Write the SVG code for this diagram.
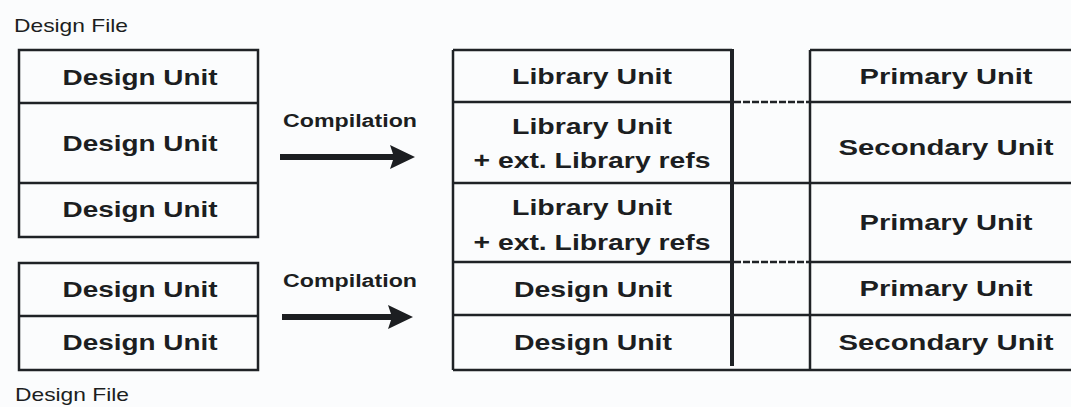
<svg xmlns="http://www.w3.org/2000/svg" width="1071" height="407" viewBox="0 0 1071 407">
  <style>
    .bg { fill: #fbfcfd; }
    .box { fill: none; stroke: #1f2226; stroke-width: 2.5; }
    .line { stroke: #1f2226; stroke-width: 2.5; fill: none; }
    .thick { stroke: #1f2226; stroke-width: 4; fill: none; }
    .dash { stroke: #1f2226; stroke-width: 2.5; stroke-dasharray: 7 2; fill: none; }
    .unit { font-family: "Liberation Sans", Arial, sans-serif; font-weight: bold; font-size: 22.5px; fill: #1c1e21; text-anchor: middle; }
    .label { font-family: "Liberation Sans", Arial, sans-serif; font-weight: bold; font-size: 18px; fill: #1c1e21; text-anchor: middle; }
    .caption { font-family: "Liberation Sans", Arial, sans-serif; font-size: 19px; fill: #1c1e21; }
    .arrow { stroke: #1c1e21; stroke-width: 6; fill: none; }
    .head { fill: #1c1e21; }
  </style>

  <rect class="bg" x="0" y="0" width="1071" height="407"/>

  <!-- upper design file: three design units -->
  <g id="design-file-1">
    <text class="caption" x="14" y="32" textLength="114" lengthAdjust="spacingAndGlyphs">Design File</text>
    <rect class="box" x="19" y="50" width="239" height="187"/>
    <line class="line" x1="19" y1="103" x2="258" y2="103"/>
    <line class="line" x1="19" y1="183" x2="258" y2="183"/>
    <text class="unit" x="140" y="85" textLength="155" lengthAdjust="spacingAndGlyphs">Design Unit</text>
    <text class="unit" x="140" y="151" textLength="155" lengthAdjust="spacingAndGlyphs">Design Unit</text>
    <text class="unit" x="140" y="217" textLength="155" lengthAdjust="spacingAndGlyphs">Design Unit</text>
  </g>

  <!-- lower design file: two design units -->
  <g id="design-file-2">
    <rect class="box" x="19" y="263" width="239" height="107"/>
    <line class="line" x1="19" y1="316" x2="258" y2="316"/>
    <text class="unit" x="140" y="297" textLength="155" lengthAdjust="spacingAndGlyphs">Design Unit</text>
    <text class="unit" x="140" y="350" textLength="155" lengthAdjust="spacingAndGlyphs">Design Unit</text>
    <text class="caption" x="15" y="401" textLength="114" lengthAdjust="spacingAndGlyphs">Design File</text>
  </g>

  <!-- library column -->
  <g id="library">
    <line class="line" x1="453" y1="50" x2="732" y2="50"/>
    <line class="line" x1="453" y1="50" x2="453" y2="370"/>
    <line class="line" x1="453" y1="102" x2="732" y2="102"/>
    <line class="line" x1="453" y1="183" x2="1071" y2="183"/>
    <line class="line" x1="453" y1="262" x2="732" y2="262"/>
    <line class="line" x1="453" y1="315" x2="1071" y2="315"/>
    <line class="line" x1="453" y1="370" x2="1071" y2="370"/>
    <line class="thick" x1="732" y1="49" x2="732" y2="366"/>
    <text class="unit" x="592" y="84" textLength="160" lengthAdjust="spacingAndGlyphs">Library Unit</text>
    <text class="unit" x="592" y="134" textLength="160" lengthAdjust="spacingAndGlyphs">Library Unit</text>
    <text class="unit" x="592" y="168" textLength="237" lengthAdjust="spacingAndGlyphs">+ ext. Library refs</text>
    <text class="unit" x="592" y="215" textLength="160" lengthAdjust="spacingAndGlyphs">Library Unit</text>
    <text class="unit" x="592" y="250" textLength="237" lengthAdjust="spacingAndGlyphs">+ ext. Library refs</text>
    <text class="unit" x="593" y="297" textLength="158" lengthAdjust="spacingAndGlyphs">Design Unit</text>
    <text class="unit" x="593" y="350" textLength="158" lengthAdjust="spacingAndGlyphs">Design Unit</text>
  </g>

  <!-- primary / secondary unit column -->
  <g id="units">
    <line class="line" x1="810" y1="50" x2="1071" y2="50"/>
    <line class="line" x1="810" y1="50" x2="810" y2="370"/>
    <line class="line" x1="810" y1="102" x2="1071" y2="102"/>
    <line class="line" x1="810" y1="262" x2="1071" y2="262"/>
    <text class="unit" x="946" y="84" textLength="173" lengthAdjust="spacingAndGlyphs">Primary Unit</text>
    <text class="unit" x="946" y="155" textLength="215" lengthAdjust="spacingAndGlyphs">Secondary Unit</text>
    <text class="unit" x="946" y="230" textLength="173" lengthAdjust="spacingAndGlyphs">Primary Unit</text>
    <text class="unit" x="946" y="296" textLength="173" lengthAdjust="spacingAndGlyphs">Primary Unit</text>
    <text class="unit" x="946" y="350" textLength="215" lengthAdjust="spacingAndGlyphs">Secondary Unit</text>
  </g>

  <!-- connectors: compilation arrows and library links -->
  <g id="connectors">
    <text class="label" x="350" y="127" textLength="134" lengthAdjust="spacingAndGlyphs">Compilation</text>
    <line class="arrow" x1="280" y1="157" x2="396" y2="157"/>
    <path class="head" d="M390 145 L415 157 L390 169 L394 157 Z"/>
    <text class="label" x="350" y="287" textLength="134" lengthAdjust="spacingAndGlyphs">Compilation</text>
    <line class="arrow" x1="282" y1="317" x2="394" y2="317"/>
    <path class="head" d="M388 305 L413 317 L388 329 L392 317 Z"/>
    <line class="dash" x1="734" y1="102" x2="810" y2="102"/>
    <line class="dash" x1="734" y1="262" x2="810" y2="262"/>
  </g>
</svg>
